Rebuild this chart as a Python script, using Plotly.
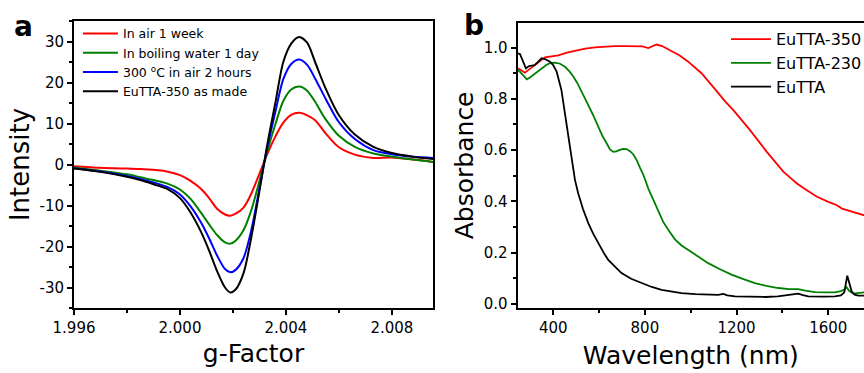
import plotly.graph_objects as go

# ---------------- Panel a: EPR spectra ----------------
g_factor = [1.9960, 1.9970, 1.9980, 1.9985, 1.9990, 1.9995, 2.0000, 2.0004, 2.0008,
            2.0011, 2.0014, 2.0017, 2.0019, 2.0021, 2.0024, 2.0027, 2.0030, 2.0033,
            2.0036, 2.0039, 2.0042, 2.0045, 2.0048, 2.0051, 2.0055, 2.0060, 2.0066,
            2.0073, 2.0080, 2.0088, 2.0096]

int_air_week = [-0.4, -0.8, -1.0, -1.1, -1.3, -1.7, -2.6, -4.0, -6.0,
                -8.2, -10.8, -12.2, -12.5, -12.0, -10.5, -7.0, -2.2, 2.6,
                6.8, 10.2, 12.1, 12.6, 12.0, 10.8, 7.6, 4.2, 2.4,
                1.6, 1.7, 1.2, 0.6]
int_boiling_water = [-0.7, -1.5, -2.4, -3.1, -3.8, -4.6, -6.1, -8.4, -11.8,
                     -14.6, -17.2, -19.0, -19.3, -18.6, -16.0, -11.0, -4.0, 3.3,
                     9.8, 15.5, 18.3, 19.0, 18.0, 15.3, 11.0, 7.0, 4.3,
                     2.7, 1.9, 1.2, 0.6]
int_300c_air = [-0.9, -1.7, -2.8, -3.5, -4.4, -5.4, -7.3, -10.2, -14.2,
                -18.0, -22.2, -25.5, -26.3, -25.7, -22.8, -15.8, -5.8, 4.3,
                12.8, 20.8, 24.5, 25.6, 24.3, 21.0, 16.0, 10.3, 6.2,
                3.5, 2.5, 1.9, 1.6]
int_as_made = [-1.0, -1.8, -3.0, -3.8, -4.8, -5.9, -8.2, -11.7, -16.5,
               -21.0, -26.0, -30.0, -31.2, -30.5, -26.5, -17.5, -6.5, 5.0,
               15.0, 25.0, 29.5, 31.1, 29.7, 25.0, 18.5, 12.0, 7.3,
               4.3, 2.8, 1.9, 1.3]

epr_names = ["In air 1 week", "In boiling water 1 day",
             "300 <sup>o</sup>C in air 2 hours", "EuTTA-350 as made"]
epr_colors = ["#ff0000", "#008000", "#0000ff", "#000000"]

g_ticks = [1.996, 2.000, 2.004, 2.008]
g_tick_labels = ["1.996", "2.000", "2.004", "2.008"]
int_ticks = [-30, -20, -10, 0, 10, 20, 30]
int_tick_labels = ["-30", "-20", "-10", "0", "10", "20", "30"]

# ---------------- Panel b: absorbance ----------------
wl_350 = [247, 262, 276, 300, 320, 345, 364, 400, 422, 460, 495, 540, 582, 630, 669,
          720, 756, 790, 815, 830, 851, 875, 902, 950, 989, 1047, 1106, 1150, 1185,
          1258, 1331, 1404, 1440, 1462, 1500, 1549, 1600, 1636, 1660, 1700, 1752, 1760]
abs_350 = [0.919, 0.910, 0.902, 0.918, 0.932, 0.950, 0.962, 0.967, 0.970, 0.980, 0.988,
           0.996, 1.001, 1.004, 1.006, 1.006, 1.007, 1.005, 0.998, 1.005, 1.012, 1.006,
           0.993, 0.970, 0.945, 0.900, 0.838, 0.790, 0.757, 0.679, 0.594, 0.516, 0.488,
           0.471, 0.447, 0.419, 0.398, 0.386, 0.372, 0.360, 0.347, 0.345]

wl_230 = [245, 262, 275, 285, 300, 313, 330, 349, 370, 386, 407, 430, 451, 470, 487,
          505, 524, 545, 574, 596, 615, 633, 648, 662, 676, 691, 705, 720, 735, 749,
          765, 778, 795, 815, 840, 859, 880, 902, 931, 960, 989, 1030, 1076, 1130,
          1178, 1230, 1280, 1330, 1382, 1430, 1469, 1500, 1542, 1600, 1629, 1655,
          1670, 1680, 1692, 1709, 1730, 1760]
abs_230 = [0.915, 0.898, 0.882, 0.876, 0.884, 0.893, 0.905, 0.919, 0.932, 0.939, 0.941,
           0.937, 0.925, 0.908, 0.888, 0.862, 0.830, 0.790, 0.737, 0.690, 0.655, 0.627,
           0.603, 0.593, 0.595, 0.601, 0.605, 0.604, 0.596, 0.584, 0.560, 0.533, 0.500,
           0.450, 0.398, 0.358, 0.320, 0.289, 0.252, 0.228, 0.211, 0.185, 0.159, 0.134,
           0.114, 0.097, 0.081, 0.070, 0.062, 0.058, 0.058, 0.052, 0.046, 0.045, 0.045,
           0.050, 0.056, 0.065, 0.050, 0.040, 0.043, 0.045]

wl_eutta = [245, 255, 262, 272, 281, 295, 320, 335, 349, 365, 386, 400, 415, 436, 455,
            473, 495, 509, 530, 553, 575, 596, 620, 640, 670, 698, 740, 786, 830, 873,
            920, 960, 1020, 1076, 1120, 1142, 1160, 1193, 1260, 1324, 1380, 1411, 1450,
            1469, 1490, 1513, 1580, 1629, 1655, 1670, 1683, 1695, 1702, 1715, 1731, 1760]
abs_eutta = [0.977, 0.975, 0.960, 0.935, 0.919, 0.928, 0.932, 0.945, 0.958, 0.955, 0.945,
             0.932, 0.906, 0.834, 0.730, 0.614, 0.484, 0.432, 0.370, 0.315, 0.273, 0.237,
             0.200, 0.172, 0.143, 0.120, 0.098, 0.081, 0.066, 0.055, 0.047, 0.042, 0.038,
             0.036, 0.035, 0.039, 0.033, 0.029, 0.027, 0.027, 0.029, 0.032, 0.036, 0.040,
             0.034, 0.029, 0.028, 0.029, 0.033, 0.045, 0.110, 0.065, 0.049, 0.036, 0.032,
             0.032]

abs_names = ["EuTTA-350", "EuTTA-230", "EuTTA"]
abs_colors = ["#ff0000", "#008000", "#000000"]

wl_ticks = [400, 800, 1200, 1600]
wl_tick_labels = ["400", "800", "1200", "1600"]
abs_ticks = [0.0, 0.2, 0.4, 0.6, 0.8, 1.0]
abs_tick_labels = ["0.0", "0.2", "0.4", "0.6", "0.8", "1.0"]

FONT = "DejaVu Sans"

fig = go.Figure()
for name, ys, col in zip(epr_names,
                         [int_air_week, int_boiling_water, int_300c_air, int_as_made],
                         epr_colors):
    fig.add_trace(go.Scatter(x=g_factor, y=ys, name=name, mode="lines",
                             line=dict(color=col, width=2, shape="spline", smoothing=0.8),
                             xaxis="x", yaxis="y", legend="legend"))

for name, xs, ys, col in zip(abs_names, [wl_350, wl_230, wl_eutta],
                             [abs_350, abs_230, abs_eutta], abs_colors):
    fig.add_trace(go.Scatter(x=xs, y=ys, name=name, mode="lines",
                             line=dict(color=col, width=1.8),
                             xaxis="x2", yaxis="y2", legend="legend2"))

axis_common = dict(showgrid=False, zeroline=False, linecolor="black", linewidth=2,
                   ticks="outside", ticklen=5, tickwidth=1.5, tickcolor="black",
                   tickfont=dict(family=FONT, size=15, color="black"))

fig.update_layout(
    width=864, height=373,
    margin=dict(l=74, r=0, t=21, b=65, autoexpand=False),
    paper_bgcolor="white", plot_bgcolor="white",
    font=dict(family=FONT, size=15, color="black"),
    hovermode=False,
    xaxis=dict(domain=[0, 0.4544], range=[1.996, 2.00955], anchor="y", mirror=True,
               tickvals=g_ticks, ticktext=g_tick_labels,
               minor=dict(dtick=0.002, tick0=1.996, ticks="outside", ticklen=3,
                          tickwidth=1.5, tickcolor="black", showgrid=False),
               title=dict(text="g-Factor", font=dict(family=FONT, size=25), standoff=8),
               **axis_common),
    yaxis=dict(domain=[0, 1], range=[-35, 35], anchor="x", mirror=True,
               tickvals=int_ticks, ticktext=int_tick_labels,
               minor=dict(dtick=5, tick0=0, ticks="outside", ticklen=3,
                          tickwidth=1.5, tickcolor="black", showgrid=False),
               title=dict(text="Intensity", font=dict(family=FONT, size=26), standoff=2),
               **axis_common),
    xaxis2=dict(domain=[0.5616, 1], range=[245, 1756], anchor="y2", mirror=True,
                tickvals=wl_ticks, ticktext=wl_tick_labels,
                minor=dict(dtick=200, tick0=0, ticks="outside", ticklen=3,
                           tickwidth=1.5, tickcolor="black", showgrid=False),
                title=dict(text="Wavelength (nm)", font=dict(family=FONT, size=25), standoff=10),
                **axis_common),
    yaxis2=dict(domain=[0, 0.994], range=[-0.016, 1.097], anchor="x2", mirror=False,
                tickvals=abs_ticks, ticktext=abs_tick_labels,
                minor=dict(dtick=0.1, tick0=0, ticks="outside", ticklen=3,
                           tickwidth=1.5, tickcolor="black", showgrid=False),
                title=dict(text="Absorbance", font=dict(family=FONT, size=25), standoff=3),
                **axis_common),
    legend=dict(x=0.005, y=1.007, xanchor="left", yanchor="top",
                bgcolor="rgba(0,0,0,0)", borderwidth=0, itemwidth=35,
                font=dict(family=FONT, size=12.5, color="black")),
    legend2=dict(x=0.8253, y=0.996, xanchor="left", yanchor="top",
                 bgcolor="rgba(0,0,0,0)", borderwidth=0, itemwidth=40,
                 font=dict(family=FONT, size=16, color="black")),
    annotations=[
        dict(text="<b>a</b>", x=-0.0633, y=0.98, xref="paper", yref="paper",
             xanchor="center", yanchor="middle", showarrow=False,
             font=dict(family=FONT, size=28, color="black")),
        dict(text="<b>b</b>", x=0.5063, y=0.986, xref="paper", yref="paper",
             xanchor="center", yanchor="middle", showarrow=False,
             font=dict(family=FONT, size=28, color="black")),
    ],
)

fig.write_html("out.html",
               config={"displayModeBar": False},
               post_script="document.body.style.margin='0px';"
                           "document.body.style.overflow='hidden';")
